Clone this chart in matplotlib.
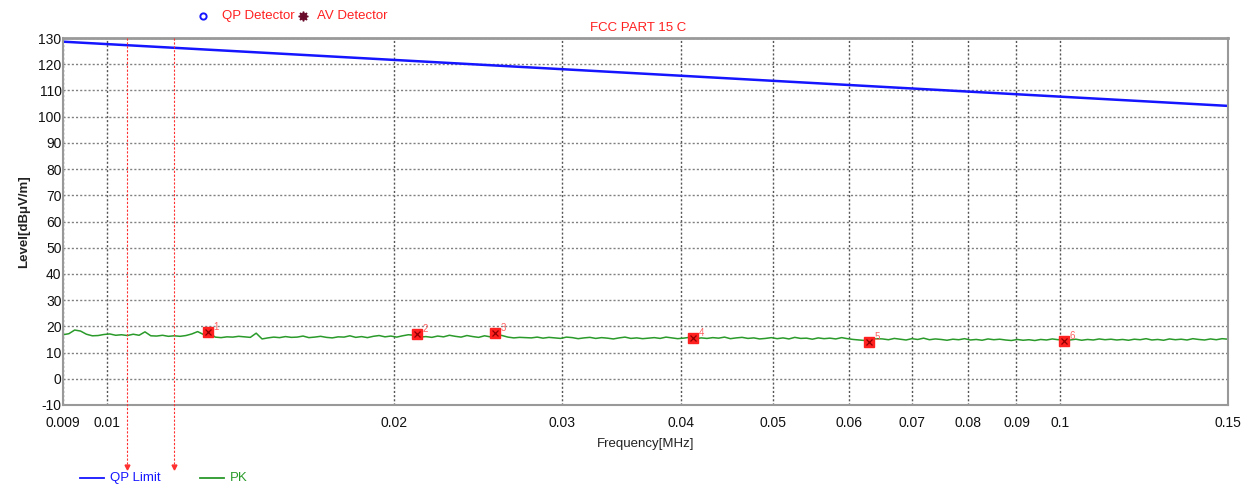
import numpy as np
import matplotlib
matplotlib.use('Agg')
import matplotlib.pyplot as plt

plt.rcParams['font.family'] = ['Liberation Sans', 'DejaVu Sans']
plt.rcParams['axes.unicode_minus'] = False

# sweep range and limit line (straight on a log axis, so two ends are enough)
fStart = 0.009
fStop = 0.15
limitFreq = [0.009, 0.15]
limitLevel = [128.6, 104.1]

pkLevel = [
    16.8, 17.2, 18.6, 18.2, 17.0, 16.4, 16.5, 16.9, 17.1, 16.6, 16.8, 16.5, 17.0, 16.6, 17.9, 16.4, 16.3, 16.6, 16.2, 16.4,
    16.2, 16.5, 17.1, 18.0, 16.9, 17.5, 15.9, 15.7, 16.0, 15.9, 16.2, 16.0, 15.8, 17.4, 15.2, 15.6, 15.9, 15.7, 16.1, 15.8,
    15.9, 16.3, 15.7, 15.9, 16.2, 15.8, 15.6, 16.0, 15.9, 16.4, 15.8, 16.1, 15.7, 16.2, 16.5, 16.0, 16.3, 15.9, 16.4, 16.8,
    16.6, 15.9, 16.1, 15.8, 16.3, 16.0, 16.6, 16.2, 15.9, 16.5, 16.1, 15.8, 16.4, 16.0, 16.9, 16.5, 15.9, 15.6, 15.8, 15.7,
    15.6, 15.9, 15.5, 15.8, 15.6, 15.4, 15.9, 15.7, 15.3, 15.6, 15.8, 15.4, 15.7, 15.5, 15.2, 15.6, 15.9, 15.4, 15.6, 15.3,
    15.5, 15.7, 15.4, 15.9, 15.6, 15.3, 15.5, 15.8, 15.2, 15.6, 15.4, 15.7, 15.5, 15.9, 15.3, 15.6, 15.8, 15.4, 15.6, 15.2,
    15.4, 15.7, 15.3, 15.6, 15.2, 15.8, 15.4, 15.5, 15.1, 15.6, 15.3, 15.5, 15.2, 15.7, 15.3, 15.0, 14.8, 14.6, 15.1, 15.3,
    15.2, 14.9, 15.4, 15.1, 14.8, 15.3, 15.0, 15.5, 14.9, 15.2, 15.0, 14.7, 15.1, 14.9, 15.3, 14.8, 15.0, 14.7, 15.2, 14.9,
    15.1, 14.8, 14.6, 15.0, 14.7, 14.9, 14.6, 15.0, 14.8, 15.2, 14.9, 15.3, 14.8, 15.1, 14.7, 15.0, 14.8, 15.2, 14.9, 15.1,
    14.8, 15.0, 14.7, 15.1, 14.9, 15.3, 14.8, 15.0, 14.7, 15.2, 14.9, 15.1, 14.8, 15.3, 15.0, 14.8, 15.2, 14.9, 15.3, 15.1,
]
pkFreq = np.geomspace(fStart, fStop, len(pkLevel))

# marked peaks
markFreq = [0.01277, 0.02116, 0.02555, 0.04118, 0.0630, 0.1009]
markLevel = [17.8, 17.0, 17.4, 15.5, 14.0, 14.4]
markNum = ['1', '2', '3', '4', '5', '6']

# red cursor lines
cursorFreq = [0.0105, 0.01177]

xTicks = [0.009, 0.01, 0.02, 0.03, 0.04, 0.05, 0.06, 0.07, 0.08, 0.09, 0.1, 0.15]
xTickLabels = ['0.009', '0.01', '0.02', '0.03', '0.04', '0.05', '0.06', '0.07', '0.08', '0.09', '0.1', '0.15']
yTicks = list(range(-10, 131, 10))


def main():
    fig = plt.figure(figsize=(12.51, 4.87), dpi=100)
    ax = fig.add_axes([63/1251, 1-405/487, 1165/1251, 367/487])

    ax.set_xscale('log')
    ax.set_xlim(fStart, fStop)
    ax.set_ylim(-10, 130)

    ax.set_xticks(xTicks)
    ax.set_xticklabels(xTickLabels)
    ax.minorticks_off()
    ax.set_yticks(yTicks)
    ax.tick_params(length=0, labelsize=10, pad=8, colors='#111111')
    ax.tick_params(axis='y', pad=1)

    ax.grid(axis='x', color='#555555', linestyle=(0, (1.5, 1.5)), linewidth=1)
    ax.grid(axis='y', color='#808080', linestyle=(0, (1.5, 1.5)), linewidth=1)
    for s in ax.spines.values():
        s.set_color('#999999')
        s.set_linewidth(1.5)
    ax.spines['top'].set_linewidth(2)

    ax.plot(limitFreq, limitLevel, color='#1515ff', linewidth=1.8)
    ax.plot(pkFreq, pkLevel, color='#2a9a2a', linewidth=1.1)

    for f, lv, n in zip(markFreq, markLevel, markNum):
        ax.plot(f, lv, marker='s', markersize=7, color='#ff2020', zorder=5)
        ax.plot(f, lv, marker='x', markersize=4.5, color='#900000', markeredgewidth=0.9, zorder=6)
        ax.text(f * 1.014, lv + 0.9, n, color='#ff6060', fontsize=7, zorder=6)

    for f in cursorFreq:
        ax.plot([f, f], [130, -33.5], color='#ff3030', linestyle=(0, (2, 1.5)),
                linewidth=0.8, clip_on=False, zorder=4)
        ax.plot(f, -33.5, marker='v', markersize=3.5, color='#ff3030', clip_on=False)

    ax.set_xlabel('Frequency[MHz]', fontsize=9.5, labelpad=6, color='#222222')
    ax.set_ylabel('Level[dBμV/m]', fontsize=9.5, fontweight='bold', color='#222222', labelpad=6)

    # header: detector keys and limit title
    fig.add_artist(plt.Line2D([203/1251], [1-16/487], marker='o', markersize=4.5,
                              markerfacecolor='white', markeredgecolor='#1515ff', markeredgewidth=1.4))
    fig.text(222/1251, 1-16/487, 'QP Detector', color='#ff2020', fontsize=9.5, va='center')
    fig.add_artist(plt.Line2D([303/1251], [1-16/487], marker=(8, 1, 0), markersize=7,
                              color='#6a0a2a'))
    fig.text(317/1251, 1-16/487, 'AV Detector', color='#ff2020', fontsize=9.5, va='center')
    fig.text(638/1251, 1-28/487, 'FCC PART 15 C', color='#ff2020', fontsize=9.5, ha='center', va='center')

    # footer key
    fig.add_artist(plt.Line2D([80/1251, 104/1251], [1-478/487, 1-478/487], color='#1515ff', linewidth=1.3))
    fig.text(110/1251, 1-478/487, 'QP Limit', color='#1515ff', fontsize=9.5, va='center')
    fig.add_artist(plt.Line2D([200/1251, 224/1251], [1-478/487, 1-478/487], color='#2a9a2a', linewidth=1.3))
    fig.text(230/1251, 1-478/487, 'PK', color='#2a9a2a', fontsize=9.5, va='center')

    fig.savefig('out.png', dpi=100)


if __name__ == '__main__':
    main()
